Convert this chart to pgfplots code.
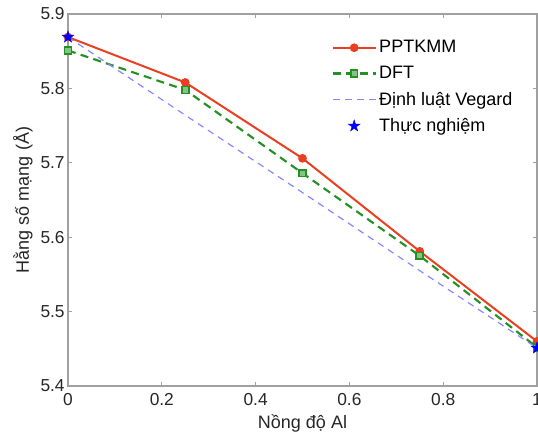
\documentclass[border=0pt]{standalone}
\usepackage{fontspec}
\setmainfont{Liberation Sans}
\usepackage{pgfplots}
\pgfplotsset{compat=1.18}
\definecolor{cred}{RGB}{232,64,32}
\definecolor{cgreen}{RGB}{35,145,35}
\definecolor{cvegard}{RGB}{135,135,255}
\definecolor{cstar}{RGB}{0,0,255}
\definecolor{caxis}{RGB}{160,160,160}
\pgfdeclareplotmark{pentagram}{%
  \pgfpathmoveto{\pgfqpointpolar{90}{\pgfplotmarksize}}%
  \pgfpathlineto{\pgfqpointpolar{126}{0.382\pgfplotmarksize}}%
  \pgfpathlineto{\pgfqpointpolar{162}{\pgfplotmarksize}}%
  \pgfpathlineto{\pgfqpointpolar{198}{0.382\pgfplotmarksize}}%
  \pgfpathlineto{\pgfqpointpolar{234}{\pgfplotmarksize}}%
  \pgfpathlineto{\pgfqpointpolar{270}{0.382\pgfplotmarksize}}%
  \pgfpathlineto{\pgfqpointpolar{306}{\pgfplotmarksize}}%
  \pgfpathlineto{\pgfqpointpolar{342}{0.382\pgfplotmarksize}}%
  \pgfpathlineto{\pgfqpointpolar{18}{\pgfplotmarksize}}%
  \pgfpathlineto{\pgfqpointpolar{54}{0.382\pgfplotmarksize}}%
  \pgfpathclose
  \pgfusepathqfillstroke}
\pgfplotsset{
  linelegend/.style={legend image code/.code={
    \draw[##1] (0pt,0pt) -- (16pt,0pt) -- (32pt,0pt);
    \draw[##1, solid, only marks] plot coordinates {(16pt,0pt)};}},
  starlegend/.style={legend image code/.code={
    \draw[##1] plot[only marks] coordinates {(16pt,0pt)};}},
}
\begin{document}
\begin{tikzpicture}
\clip (-51pt,-34.5pt) rectangle (352.5pt,289.5pt);
\begin{axis}[
  at={(0,0)}, anchor=south west,
  scale only axis,
  width=351.75pt, height=279pt,
  xmin=0, xmax=1, ymin=5.4, ymax=5.9,
  xtick={0,0.2,0.4,0.6,0.8,1},
  ytick={5.4,5.5,5.6,5.7,5.8,5.9},
  yticklabel style={/pgf/number format/fixed,/pgf/number format/precision=1,/pgf/number format/fixed zerofill, xshift=1pt},
  xticklabel style={/pgf/number format/fixed, yshift=-2pt},
  /pgf/number format/assume math mode=true,
  tick label style={font=\fontsize{13}{15}\selectfont, text=black!85},
  label style={font=\fontsize{13.5}{15}\selectfont, text=black!85},
  xlabel={Nồng độ Al},
  ylabel={Hằng số mạng (Å)},
  xlabel style={yshift=0pt},
  ylabel style={yshift=-1pt},
  axis line style={caxis, line width=1.5pt},
  tick style={caxis, line width=0.6pt},
  tick align=inside,
  major tick length=3pt,
  legend style={draw=none, fill=none, at={(0.559,0.94)}, anchor=north west,
    font=\fontsize{13.5}{15}\selectfont, row sep=4.5pt, inner sep=1pt},
  legend cell align=left,
  linelegend,
]
\addplot[cred, line width=1.5pt, mark=*, mark size=2.5pt, mark options={solid, fill=cred}]
  coordinates {(0,5.869) (0.25,5.808) (0.5,5.706) (0.75,5.581) (1,5.460)};
\addlegendentry{PPTKMM}
\addplot[cgreen, line width=1.6pt, dash pattern=on 6pt off 4pt, mark=square*, mark size=2.6pt, mark options={solid, fill=cgreen!55!white, line width=1.2pt}]
  coordinates {(0,5.851) (0.25,5.798) (0.5,5.686) (0.75,5.575) (1,5.452)};
\addlegendentry{DFT}
\addplot[cvegard, line width=0.9pt, dash pattern=on 5pt off 4pt]
  coordinates {(0,5.869) (0.25,5.764) (0.5,5.660) (0.75,5.555) (1,5.451)};
\addlegendentry{Định luật Vegard}
\addplot[cstar, only marks, mark=pentagram, mark size=4.6pt, mark options={fill=cstar, line width=0.3pt}, starlegend]
  coordinates {(0,5.869) (1,5.451)};
\addlegendentry{Thực nghiệm}
\end{axis}
\end{tikzpicture}
\end{document}
